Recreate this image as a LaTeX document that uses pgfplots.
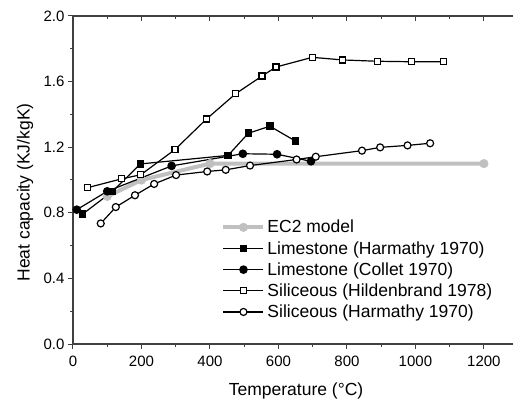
\documentclass[border=0pt]{standalone}
\usepackage{fontspec}
\setmainfont{Liberation Sans}
\usepackage{pgfplots}
\pgfplotsset{compat=1.18}
\definecolor{ecgray}{HTML}{C0C0C0}
\definecolor{axgray}{HTML}{404040}
\begin{document}
\begin{tikzpicture}
\pgfplotsset{
  common/.style={
    scale only axis, width=440bp, height=328bp,
    xmin=0, xmax=1285, ymin=0, ymax=2.0,
    xtick={0,200,...,1200}, minor x tick num=1,
    ytick={0,0.4,...,2.0}, minor y tick num=1,
    major tick length=5bp, minor tick length=3bp,
    every tick/.style={axgray, line width=1bp},
    axis line style={-, axgray, line width=1.4bp},
  }
}
\begin{axis}[common,
  axis x line*=top, axis y line=none,
  tick align=inside, xticklabels={}, ytick=\empty, minor y tick num=0,
]
\end{axis}
\begin{axis}[common,
  axis x line*=bottom, axis y line*=left,
  tick align=outside,
  /pgf/number format/assume math mode=true,
  tick label style={font=\fontsize{15bp}{18bp}\selectfont},
  yticklabel style={/pgf/number format/.cd, fixed, fixed zerofill, precision=1},
  xticklabel style={yshift=-4bp, /pgf/number format/.cd, fixed, precision=0, 1000 sep={}},
  label style={font=\fontsize{17.5bp}{21bp}\selectfont},
  xlabel={Temperature (°C)},
  ylabel={Heat capacity (KJ/kgK)},
  xlabel style={at={(axis description cs:0.507,-0.1555)}, anchor=base},
  ylabel style={at={(axis description cs:-0.109,0.462)}, anchor=center, rotate=0},
  legend style={at={(axis description cs:0.337,0.384)}, anchor=north west,
    draw=none, fill=none, font=\fontsize{17.5bp}{21bp}\selectfont,
    row sep=3bp, inner sep=0pt},
  legend cell align=left,
  legend image code/.code={%
    \draw[mark repeat=2,mark phase=2,#1] plot coordinates {(0bp,0bp) (20bp,0bp) (40bp,0bp)};},
  every axis plot/.append style={line width=1.2bp},
  clip=false,
]
\addplot[ecgray, line width=4bp, mark=*, mark size=4.3bp, mark options={fill=ecgray, draw=ecgray, line width=0.5bp}]
  coordinates {(100,0.9) (200,1.0) (400,1.1) (1200,1.1)};
\addlegendentry{EC2 model}
\addplot[black, mark=square*, mark size=3.2bp, mark options={fill=black}]
  coordinates {(28,0.792) (115,0.930) (197,1.098) (453,1.150) (512,1.285) (575,1.328) (650,1.237)};
\addlegendentry{Limestone (Harmathy 1970)}
\addplot[black, mark=*, mark size=3.7bp, mark options={fill=black}]
  coordinates {(11,0.819) (100,0.931) (288,1.086) (496,1.160) (596,1.157) (695,1.114)};
\addlegendentry{Limestone (Collet 1970)}
\addplot[black, mark=square*, mark size=3bp, mark options={fill=white}]
  coordinates {(42,0.953) (142,1.007) (198,1.032) (298,1.186) (390,1.372) (475,1.526) (552,1.634) (593,1.689) (699,1.748) (787,1.732) (889,1.724) (988,1.721) (1083,1.721)};
\addlegendentry{Siliceous (Hildenbrand 1978)}
\addplot[black, mark=*, mark size=3.5bp, mark options={fill=white}]
  coordinates {(81,0.735) (125,0.835) (181,0.907) (237,0.976) (301,1.030) (392,1.052) (446,1.062) (517,1.088) (653,1.125) (709,1.142) (844,1.179) (897,1.199) (977,1.211) (1043,1.224)};
\addlegendentry{Siliceous (Harmathy 1970)}
\coordinate (sw) at (rel axis cs:0,0);
\coordinate (ne) at (rel axis cs:1,1);
\end{axis}
\pgfresetboundingbox
\path[use as bounding box] ([xshift=-73bp,yshift=-57bp]sw) rectangle ([yshift=16bp]ne);
\end{tikzpicture}
\end{document}
